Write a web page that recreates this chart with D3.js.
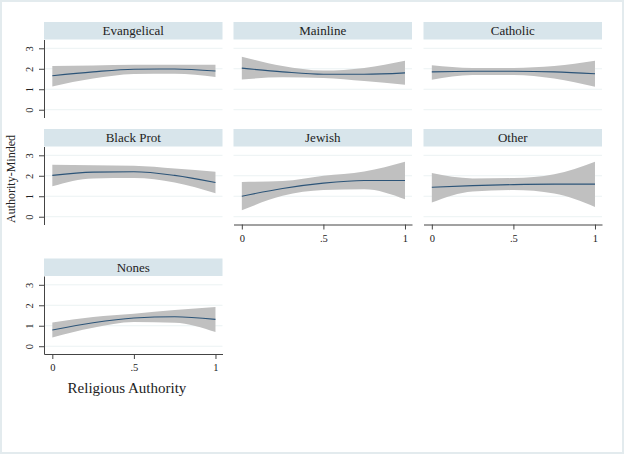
<!DOCTYPE html>
<html>
<head>
<meta charset="utf-8">
<script src="https://cdn.jsdelivr.net/npm/d3@7"></script>
<style>
  body { margin: 0; background: #fff; }
  svg text { font-family: "Liberation Serif", "Times New Roman", serif !important; fill: #222; }
</style>
</head>
<body>
<svg id="svg1" width="624" height="454"></svg>
<script>
var svg = d3.select('#svg1');

// data
var groups = ['Evangelical', 'Mainline', 'Catholic', 'Black Prot', 'Jewish', 'Other', 'Nones'];
var xVals = [0, 0.25, 0.5, 0.75, 1];
var fitVals = [
    [1.66, 1.85, 1.98, 1.99, 1.89],
    [2.03, 1.85, 1.73, 1.73, 1.80],
    [1.85, 1.88, 1.88, 1.85, 1.76],
    [2.02, 2.18, 2.20, 2.02, 1.67],
    [1.00, 1.38, 1.64, 1.77, 1.77],
    [1.44, 1.52, 1.57, 1.59, 1.59],
    [0.79, 1.15, 1.38, 1.44, 1.31]
];
var upperVals = [
    [2.13, 2.16, 2.20, 2.20, 2.20],
    [2.59, 2.13, 1.91, 2.04, 2.39],
    [2.17, 2.04, 2.04, 2.13, 2.39],
    [2.54, 2.52, 2.49, 2.36, 2.20],
    [1.70, 1.74, 2.00, 2.21, 2.69],
    [2.13, 1.87, 1.89, 2.08, 2.69],
    [1.16, 1.43, 1.59, 1.77, 1.92]
];
var lowerVals = [
    [1.14, 1.52, 1.75, 1.76, 1.60],
    [1.48, 1.58, 1.55, 1.40, 1.22],
    [1.47, 1.70, 1.70, 1.52, 1.12],
    [1.49, 1.87, 1.89, 1.67, 1.15],
    [0.31, 1.02, 1.30, 1.34, 0.85],
    [0.69, 1.23, 1.30, 1.13, 0.48],
    [0.43, 0.90, 1.18, 1.15, 0.69]
];
var yTicks = [0, 1, 2, 3];
var xTicks = [0, 0.5, 1];
var xTickLabels = ['0', '.5', '1'];

var serif = '"Liberation Serif", "Times New Roman", serif';

// layout
var colX = [44, 233.5, 423.5];
var rowTop = [22, 129, 258.5];
var panelW = 178.5, stripH = 17.5, plotH = 78;

// outer frame
svg.append('rect')
    .attr('x', 1).attr('y', 1)
    .attr('width', 622).attr('height', 452)
    .attr('fill', '#fff')
    .attr('stroke', '#e3ebee')
    .attr('stroke-width', 2);

// panels that get an x axis (bottom of each column)
var hasXAxis = {'Jewish': true, 'Other': true, 'Nones': true};

groups.forEach(function(name, i) {
    var col = i % 3, row = Math.floor(i / 3);
    var left = colX[col];
    var top = rowTop[row] + stripH;
    var bottom = top + plotH;

    var xScale = d3.scaleLinear().domain([-0.051, 1.043]).range([left, left + panelW]);
    var yScale = d3.scaleLinear().domain([-0.38, 3.43]).range([bottom, top]);

    var g = svg.append('g').attr('class', 'panel');

    // strip
    g.append('rect')
        .attr('x', left).attr('y', rowTop[row])
        .attr('width', panelW).attr('height', stripH)
        .attr('fill', '#d8e5eb');
    g.append('text')
        .attr('x', left + panelW / 2)
        .attr('y', rowTop[row] + 13)
        .attr('text-anchor', 'middle')
        .style('font-family', serif)
        .style('font-size', '13px')
        .style('font-weight', 'normal')
        .text(name);

    // gridlines
    g.selectAll('.grid')
        .data(yTicks)
        .enter()
        .append('line')
        .attr('class', 'grid')
        .attr('x1', left).attr('x2', left + panelW)
        .attr('y1', function(d) { return yScale(d); })
        .attr('y2', function(d) { return yScale(d); })
        .attr('stroke', '#ebf2f3')
        .attr('stroke-width', 1);

    var pts = xVals.map(function(x, k) {
        return {x: x, fit: fitVals[i][k], hi: upperVals[i][k], lo: lowerVals[i][k]};
    });

    var area = d3.area()
        .curve(d3.curveMonotoneX)
        .x(function(d) { return xScale(d.x); })
        .y0(function(d) { return yScale(d.lo); })
        .y1(function(d) { return yScale(d.hi); });

    var line = d3.line()
        .curve(d3.curveMonotoneX)
        .x(function(d) { return xScale(d.x); })
        .y(function(d) { return yScale(d.fit); });

    g.append('path')
        .datum(pts)
        .attr('d', area)
        .attr('fill', '#c0c0c0');

    g.append('path')
        .datum(pts)
        .attr('d', line)
        .attr('fill', 'none')
        .attr('stroke', '#2c5478')
        .attr('stroke-width', 1.1);

    // y axis on first column
    if (col == 0) {
        var yAxis = d3.axisLeft(yScale).tickValues(yTicks).tickSize(5).tickSizeOuter(0).tickFormat(d3.format('d'));
        var ya = g.append('g')
            .attr('transform', 'translate(' + [left, 0] + ')')
            .call(yAxis)
            .attr('font-family', serif);
        ya.select('.domain').attr('stroke', '#444');
        ya.selectAll('.tick line').attr('stroke', '#444');
        ya.selectAll('.tick text')
            .attr('x', null).attr('dy', null)
            .attr('transform', 'translate(-11,0) rotate(-90)')
            .attr('text-anchor', 'middle')
            .style('font-family', serif)
            .style('font-size', '10.5px')
            .attr('fill', '#222');
    }

    if (hasXAxis[name]) {
        var xAxis = d3.axisBottom(xScale).tickValues(xTicks).tickSize(5).tickSizeOuter(0)
            .tickFormat(function(d, k) { return xTickLabels[k]; });
        var xa = g.append('g')
            .attr('transform', 'translate(' + [0, bottom] + ')')
            .call(xAxis)
            .attr('font-family', serif);
        xa.select('.domain').attr('stroke', '#444');
        xa.selectAll('.tick line').attr('stroke', '#444');
        xa.selectAll('.tick text')
            .attr('y', 10)
            .style('font-family', serif)
            .style('font-size', '10.5px')
            .attr('fill', '#222');
    }
});

// axis titles
svg.append('text')
    .attr('x', 127)
    .attr('y', 393)
    .attr('text-anchor', 'middle')
    .style('font-family', serif)
    .style('font-size', '15px')
    .text('Religious Authority');

svg.append('text')
    .attr('transform', 'translate(' + [15, 179] + ') rotate(-90)')
    .attr('text-anchor', 'middle')
    .style('font-family', serif)
    .style('font-size', '12px')
    .text('Authority-Minded');
</script>
</body>
</html>
